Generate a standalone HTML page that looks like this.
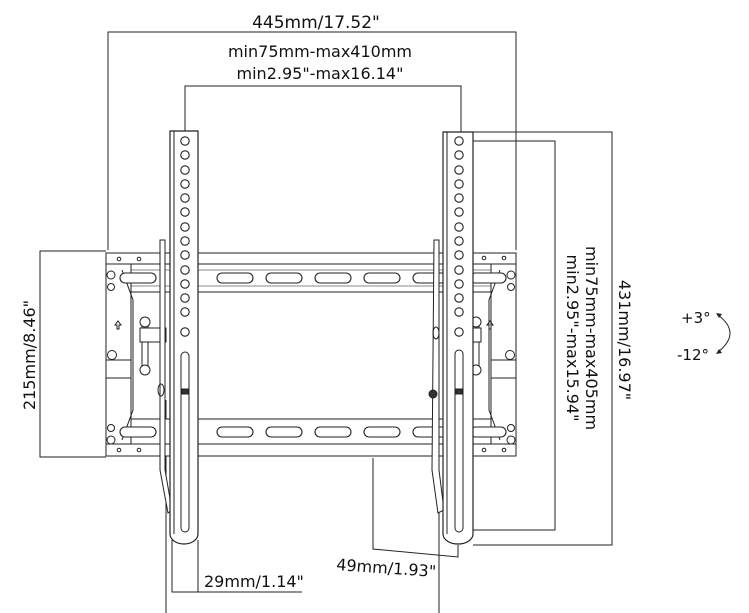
<!DOCTYPE html>
<html><head><style>
html,body{margin:0;padding:0;background:#fff;}
svg{display:block;}
text{font-family:"DejaVu Sans","Liberation Sans",sans-serif;fill:#111;}
</style></head><body>
<svg width="749" height="613" viewBox="0 0 749 613" xmlns="http://www.w3.org/2000/svg">
<defs>
<g id="slot"><rect x="0" y="-5" width="36" height="10" rx="5" fill="#fff" stroke="#222" stroke-width="1.1"/></g>
<g id="hole"><circle r="4.2" fill="#fff" stroke="#222" stroke-width="1.1"/></g>
</defs>
<g fill="none" stroke="#222" stroke-width="1">
<polyline points="108,250 108,32 516,32 516,250"/>
<polyline points="185,132 185,86 461,86 461,132"/>
<polyline points="106,251 40,251 40,457 106,457"/>
<polyline points="473,132 612,132 612,545 473,545"/>
<polyline points="461,141 555,141 555,530 461,530"/>
<polyline points="373,458 373,549 458,557 458,545"/>
<polyline points="172,540 172,592 302,592"/>
<line x1="198" y1="540" x2="198" y2="592"/>
<line x1="166" y1="400" x2="166" y2="613"/>
<line x1="439" y1="490" x2="439" y2="613"/>

<rect x="106" y="253" width="410" height="11" fill="#fff"/>
<rect x="106" y="264" width="410" height="28" fill="#fff"/>
<rect x="106" y="419" width="410" height="25" fill="#fff"/>
<rect x="106" y="444" width="410" height="12" fill="#fff"/>
<line x1="106" y1="270" x2="516" y2="270" stroke="#888"/>
<line x1="106" y1="286" x2="516" y2="286" stroke="#888"/>
<rect x="106" y="264" width="25" height="180" fill="#fff"/>
<rect x="491" y="264" width="25" height="180" fill="#fff"/>
<path d="M122,270 L133,300 L133,410 L122,440" />
<path d="M500,270 L489,300 L489,410 L500,440" />
<line x1="106" y1="360" x2="131" y2="360"/>
<line x1="106" y1="378" x2="131" y2="378"/>
<line x1="491" y1="360" x2="516" y2="360"/>
<line x1="491" y1="378" x2="516" y2="378"/>
</g>
<g>
<use href="#slot" x="120" y="278"/><use href="#slot" x="217" y="278"/><use href="#slot" x="266" y="278"/><use href="#slot" x="315" y="278"/><use href="#slot" x="364" y="278"/><use href="#slot" x="413" y="278"/><use href="#slot" x="470" y="278"/>
<use href="#slot" x="120" y="432"/><use href="#slot" x="217" y="432"/><use href="#slot" x="266" y="432"/><use href="#slot" x="315" y="432"/><use href="#slot" x="364" y="432"/><use href="#slot" x="413" y="432"/><use href="#slot" x="470" y="432"/>
</g>
<g fill="none" stroke="#222" stroke-width="1">
<circle cx="119" cy="259" r="1.8"/><circle cx="139" cy="259" r="1.8"/>
<circle cx="119" cy="450" r="1.8"/><circle cx="139" cy="450" r="1.8"/>
<circle cx="484" cy="258" r="1.8"/><circle cx="504" cy="258" r="1.8"/>
<circle cx="484" cy="450" r="1.8"/><circle cx="504" cy="450" r="1.8"/>
<circle cx="111" cy="275" r="4"/><circle cx="111" cy="287" r="3.5"/>
<circle cx="111" cy="428" r="3.5"/><circle cx="111" cy="440" r="4"/>
<circle cx="511" cy="275" r="4"/><circle cx="511" cy="287" r="3.5"/>
<circle cx="511" cy="428" r="3.5"/><circle cx="511" cy="440" r="4"/>
<circle cx="112" cy="355" r="4.5"/><circle cx="510" cy="355" r="4.5"/>
<circle cx="145" cy="322" r="5" fill="#fff"/><circle cx="145" cy="370" r="5" fill="#fff"/>
<line x1="142" y1="326" x2="142" y2="366"/><line x1="148" y1="326" x2="148" y2="366"/>
<rect x="140" y="328" width="26" height="14" fill="#fff"/>
<circle cx="476" cy="322" r="5" fill="#fff"/><circle cx="476" cy="370" r="5" fill="#fff"/>
<line x1="473" y1="326" x2="473" y2="366"/><line x1="479" y1="326" x2="479" y2="366"/>
<rect x="455" y="328" width="26" height="14" fill="#fff"/>
<path d="M115,325 l3,-4 l3,4 h-2 v4 h-2 v-4z"/>
<path d="M487,325 l3,-4 l3,4 h-2 v4 h-2 v-4z"/>
<path d="M160,240 L165,240 L165,470 L172,510 L168,513 L160,470 Z" fill="#fff"/>
<path d="M434,240 L439,240 L439,470 L444,510 L438,513 L432,470 Z" fill="#fff"/>
<ellipse cx="161" cy="390" rx="3" ry="6"/>
<ellipse cx="436" cy="333" rx="3" ry="6"/>
<circle cx="433" cy="394" r="4" fill="#333"/>
<path d="M170,131 H198 V534 a14,10 0 0 1 -28,0 Z" fill="#fff" stroke-width="1.2"/>
<line x1="174" y1="131" x2="174" y2="534"/>
<path d="M443,132 H473 V534 a15,10 0 0 1 -30,0 Z" fill="#fff" stroke-width="1.2"/>
<line x1="447" y1="132" x2="447" y2="534"/>
<rect x="181" y="352" width="8" height="180" rx="4"/>
<rect x="455" y="350" width="8" height="182" rx="4"/>
<rect x="182" y="389" width="6" height="5" fill="#333"/>
<rect x="456" y="389" width="6" height="5" fill="#333"/>
</g>
<g>
<use href="#hole" x="185" y="141"/><use href="#hole" x="185" y="155"/><use href="#hole" x="185" y="170"/><use href="#hole" x="185" y="184"/><use href="#hole" x="185" y="198"/><use href="#hole" x="185" y="212"/><use href="#hole" x="185" y="227"/><use href="#hole" x="185" y="241"/><use href="#hole" x="185" y="255"/><use href="#hole" x="185" y="270"/><use href="#hole" x="185" y="284"/><use href="#hole" x="185" y="298"/><use href="#hole" x="185" y="312"/><use href="#hole" x="185" y="332"/>
<use href="#hole" x="459" y="141"/><use href="#hole" x="459" y="155"/><use href="#hole" x="459" y="170"/><use href="#hole" x="459" y="184"/><use href="#hole" x="459" y="198"/><use href="#hole" x="459" y="212"/><use href="#hole" x="459" y="227"/><use href="#hole" x="459" y="241"/><use href="#hole" x="459" y="255"/><use href="#hole" x="459" y="270"/><use href="#hole" x="459" y="284"/><use href="#hole" x="459" y="298"/><use href="#hole" x="459" y="312"/><use href="#hole" x="459" y="332"/>
</g>
<g fill="none" stroke="#222" stroke-width="1">
<path d="M718,315 Q742,333 718,352"/>
</g>
<path d="M716,313 l6,1 l-3,4z M716,354 l6,-1 l-3,-4z" fill="#222"/>
<g font-size="16">
<text x="316" y="28" text-anchor="middle" font-size="17">445mm/17.52"</text>
<text x="320" y="57" text-anchor="middle">min75mm-max410mm</text>
<text x="320" y="79" text-anchor="middle">min2.95"-max16.14"</text>
<text transform="translate(35,355) rotate(-90)" text-anchor="middle">215mm/8.46"</text>
<text transform="translate(619,340) rotate(90)" text-anchor="middle">431mm/16.97"</text>
<text transform="translate(586,338) rotate(90)" text-anchor="middle">min75mm-max405mm</text>
<text transform="translate(567,338) rotate(90)" text-anchor="middle">min2.95"-max15.94"</text>
<text transform="translate(336,570) rotate(4)">49mm/1.93"</text>
<text x="204" y="587">29mm/1.14"</text>
<text x="681" y="323" font-size="15">+3°</text>
<text x="677" y="360" font-size="15">-12°</text>
</g>
</svg>
</body></html>
